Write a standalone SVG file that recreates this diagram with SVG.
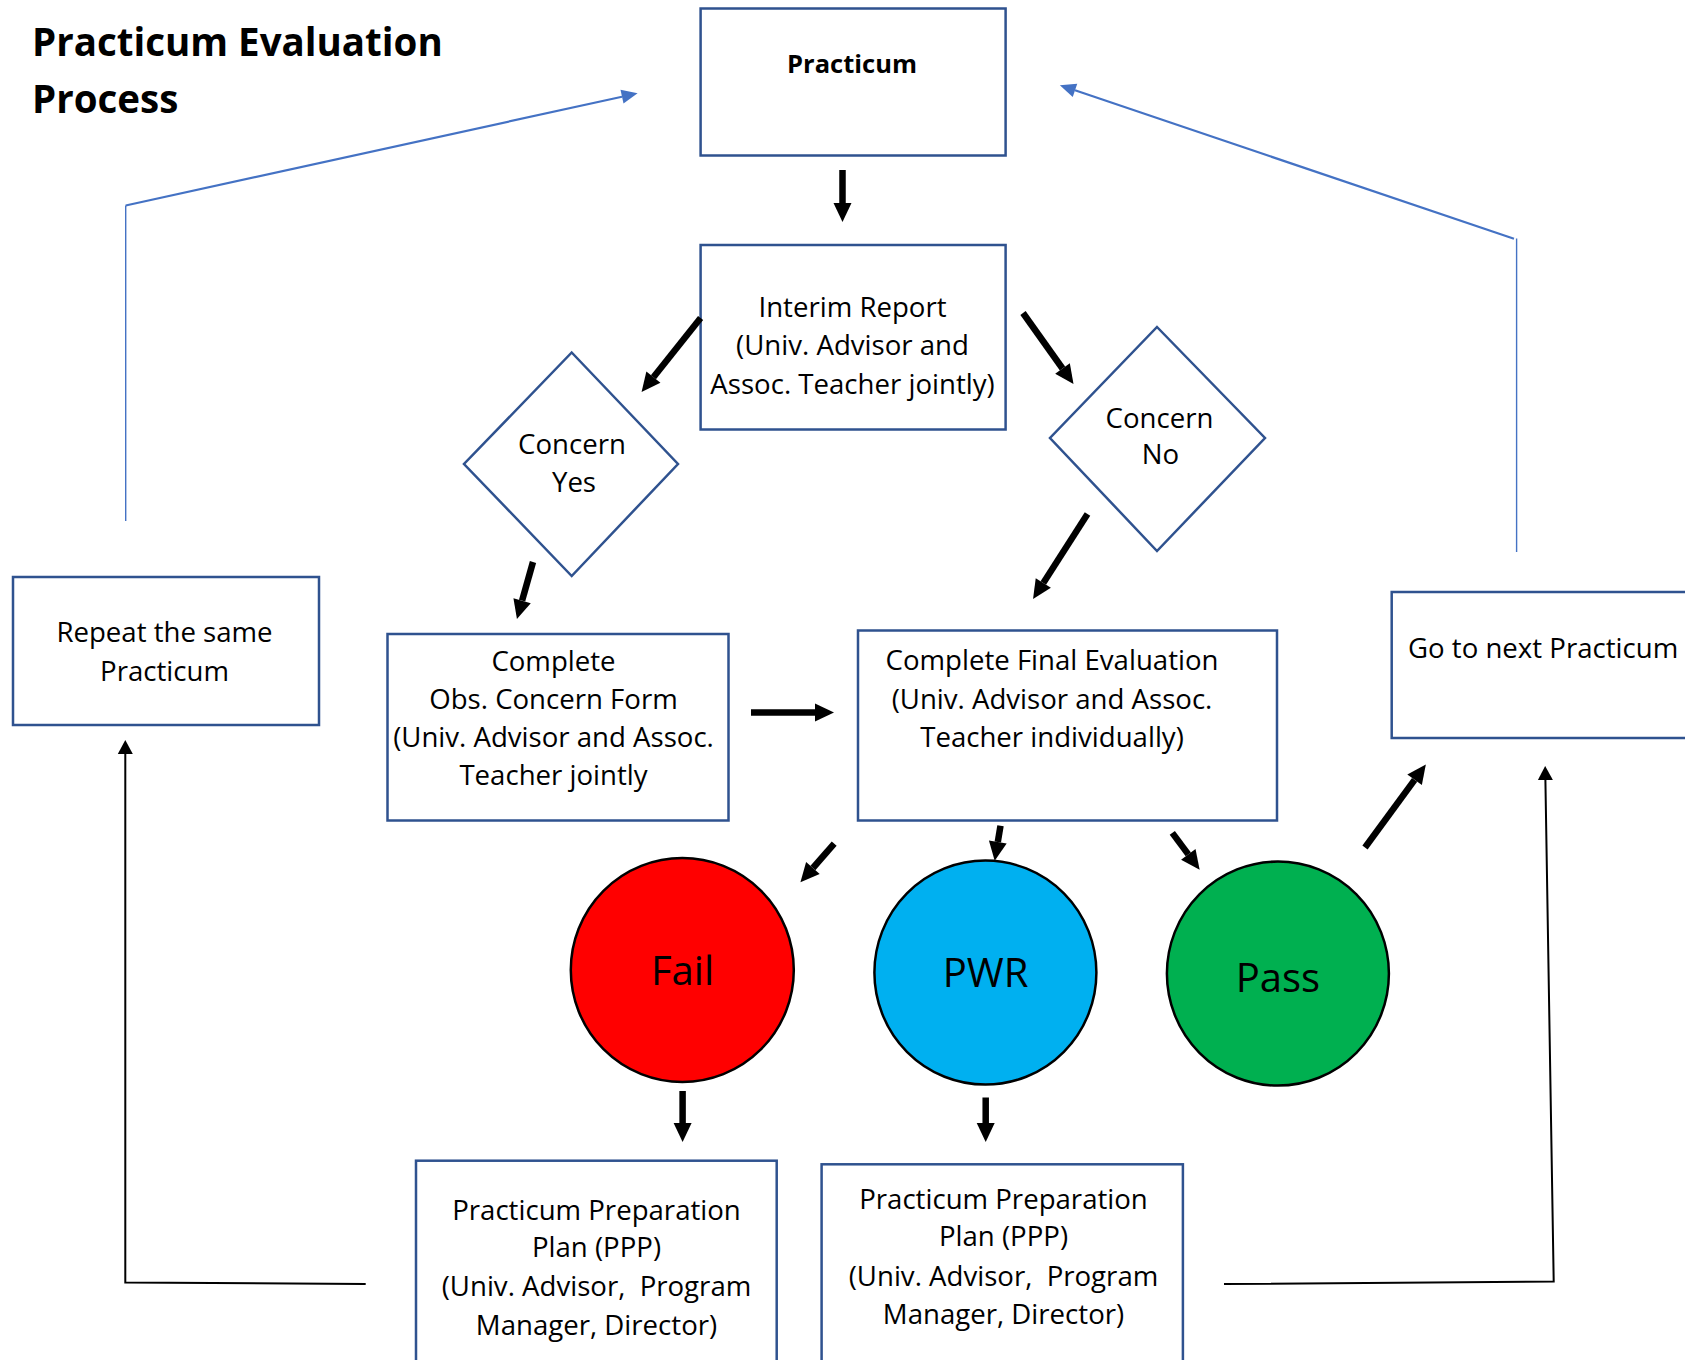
<svg xmlns="http://www.w3.org/2000/svg" width="1685" height="1360" viewBox="0 0 1685 1360">
<style>
  text { font-family: "Open Sans", "Noto Sans", "Liberation Sans", sans-serif; fill: #000; }
  .t { font-size: 27.6px; text-anchor: middle; }
  .title { font-size: 38.5px; font-weight: bold; }
  .box { fill: #fff; stroke: #2F528F; stroke-width: 2.5; }
  .circ { stroke: #000; stroke-width: 2.5; }
  .ct { font-size: 40px; text-anchor: middle; }
  .blk { stroke: #000; stroke-width: 6.5; fill: none; marker-end: url(#bh); }
  .thin { stroke: #000; stroke-width: 2; fill: none; marker-end: url(#th); }
  .blue { stroke: #4472C4; fill: none; }
</style>
<defs>
  <marker id="bh" markerUnits="userSpaceOnUse" markerWidth="20" markerHeight="20" viewBox="0 -10 20 20" refX="0" refY="0" orient="auto" overflow="visible">
    <path d="M0,-9 L19,0 L0,9 z" fill="#000"/>
  </marker>
  <marker id="th" markerUnits="userSpaceOnUse" markerWidth="16" markerHeight="16" viewBox="0 -8 16 16" refX="0" refY="0" orient="auto" overflow="visible">
    <path d="M0,-7.5 L14,0 L0,7.5 z" fill="#000"/>
  </marker>
  <marker id="bl" markerUnits="userSpaceOnUse" markerWidth="18" markerHeight="18" viewBox="0 -9 18 18" refX="0" refY="0" orient="auto" overflow="visible">
    <path d="M0,-7 L16,0 L0,7 z" fill="#4472C4"/>
  </marker>
</defs>
<rect width="1685" height="1360" fill="#fff"/>

<g id="title">
  <text class="title" x="32" y="56">Practicum Evaluation</text>
  <text class="title" x="32" y="113">Process</text>
</g>

<g id="practicum">
  <rect class="box" x="700.6" y="8.5" width="305" height="147"/>
  <text class="t" x="852" y="73" style="font-weight:bold;font-size:25.5px">Practicum</text>
</g>

<g id="interim">
  <rect class="box" x="700.6" y="245" width="305" height="184.5"/>
  <text class="t" x="852.5" y="317">Interim Report</text>
  <text class="t" x="852.5" y="355">(Univ. Advisor and</text>
  <text class="t" x="852.5" y="394">Assoc. Teacher jointly)</text>
</g>

<g id="concern-yes">
  <polygon class="box" points="571.7,352.5 678,464 571.7,576 464,464"/>
  <text class="t" x="572" y="454">Concern</text>
  <text class="t" x="574" y="492">Yes</text>
</g>

<g id="concern-no">
  <polygon class="box" points="1157,327 1265,438 1157,551 1050,438"/>
  <text class="t" x="1159.5" y="427.5">Concern</text>
  <text class="t" x="1160.5" y="464">No</text>
</g>

<g id="repeat">
  <rect class="box" x="13" y="577" width="306" height="148"/>
  <text class="t" x="164.5" y="642">Repeat the same</text>
  <text class="t" x="164.5" y="680.5">Practicum</text>
</g>

<g id="obs-concern">
  <rect class="box" x="387.5" y="634" width="341" height="186.5"/>
  <text class="t" x="553.5" y="670.5">Complete</text>
  <text class="t" x="553.5" y="708.5">Obs. Concern Form</text>
  <text class="t" x="553.5" y="747">(Univ. Advisor and Assoc.</text>
  <text class="t" x="553.5" y="785">Teacher jointly</text>
</g>

<g id="final-eval">
  <rect class="box" x="858" y="630.5" width="419" height="190"/>
  <text class="t" x="1052" y="670">Complete Final Evaluation</text>
  <text class="t" x="1052" y="709">(Univ. Advisor and Assoc.</text>
  <text class="t" x="1052" y="747">Teacher individually)</text>
</g>

<g id="next-practicum">
  <rect class="box" x="1391.7" y="592" width="320" height="146"/>
  <text x="1408" y="658" style="font-size:27.6px">Go to next Practicum</text>
</g>

<g id="fail">
  <ellipse class="circ" cx="682.3" cy="970" rx="111.5" ry="112" fill="#FF0000"/>
  <text class="ct" x="682.5" y="985">Fail</text>
</g>

<g id="pwr">
  <ellipse class="circ" cx="985.4" cy="972.6" rx="111" ry="112" fill="#00B0F0"/>
  <text class="ct" x="985.5" y="987">PWR</text>
</g>

<g id="pass">
  <ellipse class="circ" cx="1277.9" cy="973.6" rx="111" ry="112" fill="#00B050"/>
  <text class="ct" x="1277.9" y="992">Pass</text>
</g>

<g id="ppp-fail">
  <rect class="box" x="416" y="1160.7" width="360.7" height="220"/>
  <text class="t" x="596.5" y="1220">Practicum Preparation</text>
  <text class="t" x="596.5" y="1257">Plan (PPP)</text>
  <text class="t" x="596.5" y="1296" xml:space="preserve">(Univ. Advisor,  Program</text>
  <text class="t" x="596.5" y="1334.5">Manager, Director)</text>
</g>

<g id="ppp-pwr">
  <rect class="box" x="821.6" y="1164.3" width="361.3" height="220"/>
  <text class="t" x="1003.5" y="1209">Practicum Preparation</text>
  <text class="t" x="1003.5" y="1246">Plan (PPP)</text>
  <text class="t" x="1003.5" y="1286" xml:space="preserve">(Univ. Advisor,  Program</text>
  <text class="t" x="1003.5" y="1324">Manager, Director)</text>
</g>

<g id="connectors">
  <path class="blk" d="M842.5,170 L842.5,203"/>
  <path class="blk" d="M700.6,318 L653.4,377.2"/>
  <path class="blk" d="M1023,313 L1062.5,368.5"/>
  <path class="blk" d="M533,562 L522.1,600.7"/>
  <path class="blk" d="M1087.5,514 L1043.3,583"/>
  <path class="blk" d="M751,712.5 L815,712.5"/>
  <path class="blk" d="M834.2,843.6 L812.9,868"/>
  <path class="blk" d="M1000.5,825.7 L997.8,842"/>
  <path class="blk" d="M1172.3,832.9 L1188.3,854.4"/>
  <path class="blk" d="M1365,847.5 L1414.6,779.8"/>
  <path class="blk" d="M682.6,1091 L682.6,1123"/>
  <path class="blk" d="M985.7,1097.5 L985.7,1123"/>

  <path class="thin" d="M365.7,1284 L125.3,1282.5 L125.3,754"/>
  <path class="thin" d="M1224,1284 L1553.7,1281.5 L1545.4,780"/>

  <path class="blue" stroke-width="1.4" d="M125.7,521 L125.7,205.5"/>
  <path class="blue" stroke-width="2.2" marker-end="url(#bl)" d="M125.7,205.5 L622,96.7"/>
  <path class="blue" stroke-width="1.4" d="M1516.6,552 L1516.6,238.5"/>
  <path class="blue" stroke-width="2.2" marker-end="url(#bl)" d="M1514,238.8 L1075,90.3"/>
</g>
</svg>
